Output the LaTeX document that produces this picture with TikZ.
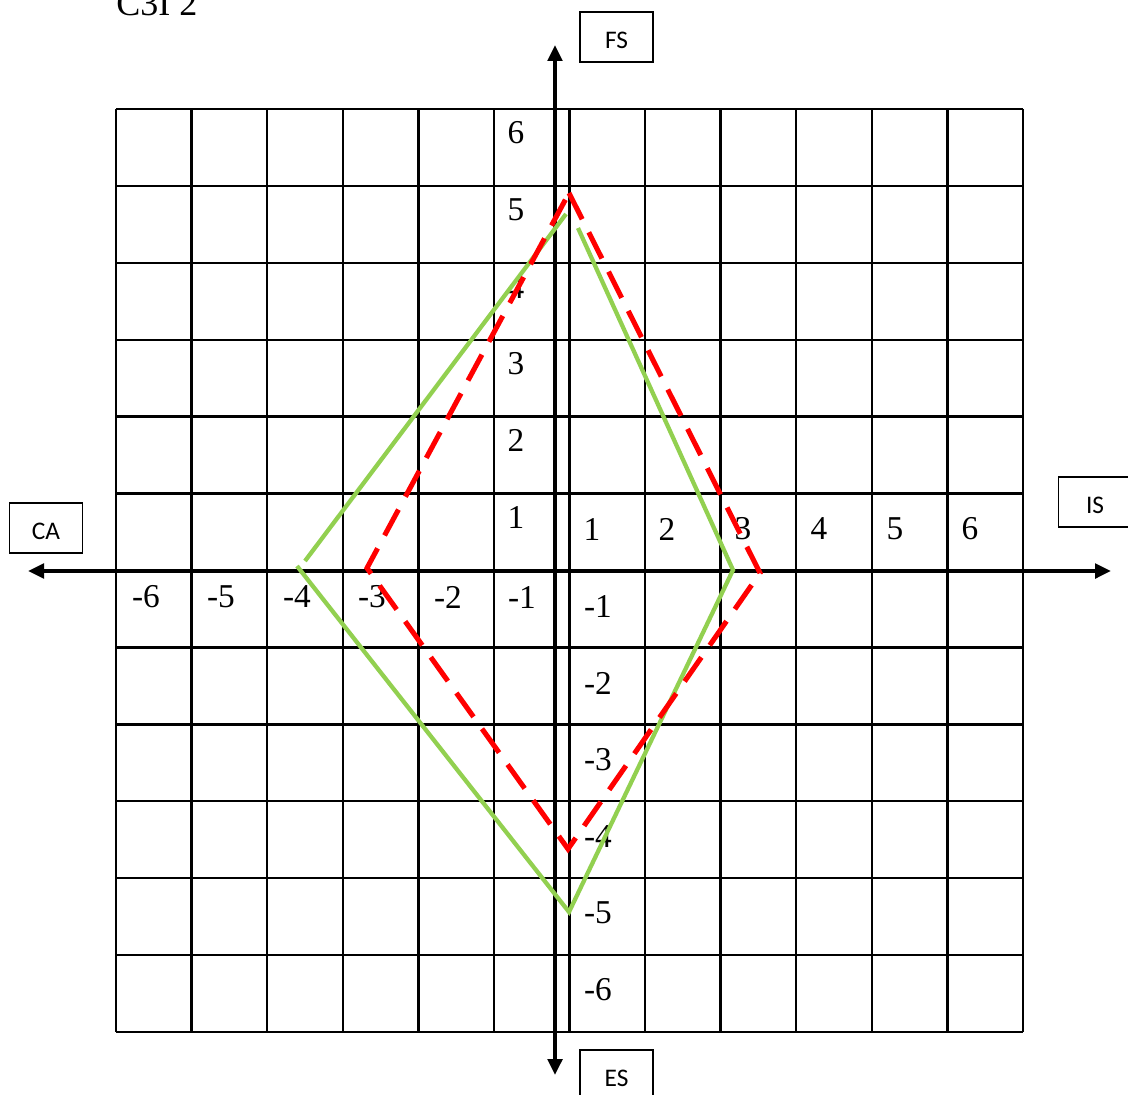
\documentclass[tikz,border=0pt]{standalone}
\usepackage{fontspec}
\setmainfont{Liberation Serif}
\newfontfamily\boxfont{Carlito}
\usetikzlibrary{arrows.meta}
\begin{document}
\begin{tikzpicture}[x=0.75pt,y=-0.75pt,
  gridline/.style={line width=1.8pt},
  axisline/.style={line width=2.6pt,-{Triangle[length=12pt,width=11pt]}},
  lbl/.style={inner sep=0pt,font=\fontsize{25}{28}\selectfont},
  labelbox/.style={draw,line width=1.1pt,minimum width=54.75pt,minimum height=37.5pt,inner sep=0pt,text height=17pt,text depth=0pt,font=\boxfont\fontsize{19}{21}\selectfont},
  greenline/.style={line width=3.2pt,draw={rgb,255:red,146;green,208;blue,80}},
  reddash/.style={line width=3.8pt,draw=red,dash pattern=on 22pt off 11pt}]
\useasboundingbox (0,0) rectangle (1128,1095);
% title (clipped at top)
\node[anchor=base west,inner sep=0pt,font=\fontsize{27}{30}\selectfont] (title) at (116,16) {C3I 2};
% grid
\foreach \i in {0,...,12} {
  \draw[gridline] ({116+\i*75.58},109) -- ({116+\i*75.58},1032);
  \draw[gridline] (116,{109+\i*76.92}) -- (1023,{109+\i*76.92});
}
% axes
\coordinate (ytop) at (555,45);
\coordinate (ydown) at (555,1075);
\coordinate (xmid) at (555,571);
\coordinate (xleft) at (28,571);
\coordinate (xright) at (1111,571);
\draw[axisline] (xmid) -- (ytop);
\draw[axisline] (xmid) -- (ydown);
\draw[axisline] (xmid) -- (xleft);
\draw[axisline] (xmid) -- (xright);
% boxes
\node[labelbox] (FS) at (616.5,37) {FS};
\node[labelbox] (CA) at (46,528) {CA};
\node[labelbox] (IS) at (1095,502) {IS};
\node[labelbox] (ES) at (616.5,1075) {ES};
% y labels
\node[lbl] (y6) at (516,133) {6};
\node[lbl] (y5) at (516,210) {5};
\node[lbl] (y4) at (516,288) {4};
\node[lbl] (y3) at (516,364) {3};
\node[lbl] (y2) at (516,440) {2};
\node[lbl] (y1) at (516,517) {1};
\node[lbl] (ym1) at (598,606) {-1};
\node[lbl] (ym2) at (598,683) {-2};
\node[lbl] (ym3) at (598,760) {-3};
\node[lbl] (ym4) at (598,837) {-4};
\node[lbl] (ym5) at (598,913) {-5};
\node[lbl] (ym6) at (598,990) {-6};
% x labels
\node[lbl] (x1) at (592,529) {1};
\node[lbl] (x2) at (667,529) {2};
\node[lbl] (x3) at (743,529) {3};
\node[lbl] (x4) at (819,529) {4};
\node[lbl] (x5) at (895,529) {5};
\node[lbl] (x6) at (970,529) {6};
\node[lbl] (xm6) at (146,597) {-6};
\node[lbl] (xm5) at (221,597) {-5};
\node[lbl] (xm4) at (297,597) {-4};
\node[lbl] (xm3) at (372,597) {-3};
\node[lbl] (xm2) at (448,597) {-2};
\node[lbl] (xm1) at (522,597) {-1};
% green shape
\coordinate (g1) at (305,561);
\coordinate (g2) at (566,214);
\coordinate (g3) at (578,228);
\coordinate (g4) at (733,570);
\coordinate (g5) at (569,912);
\coordinate (g6) at (297,566);
\draw[greenline] (g1) -- (g2);
\draw[greenline,line join=miter] (g3) -- (g4) -- (g5) -- (g6);
% red dashed shape
\coordinate (r1) at (569,193);
\coordinate (r2) at (760,573);
\coordinate (r3) at (568,849);
\coordinate (r4) at (367,568);
\draw[reddash,line join=miter] (r1) -- (r2) -- (r3) -- (r4) -- cycle;
\end{tikzpicture}
\end{document}
